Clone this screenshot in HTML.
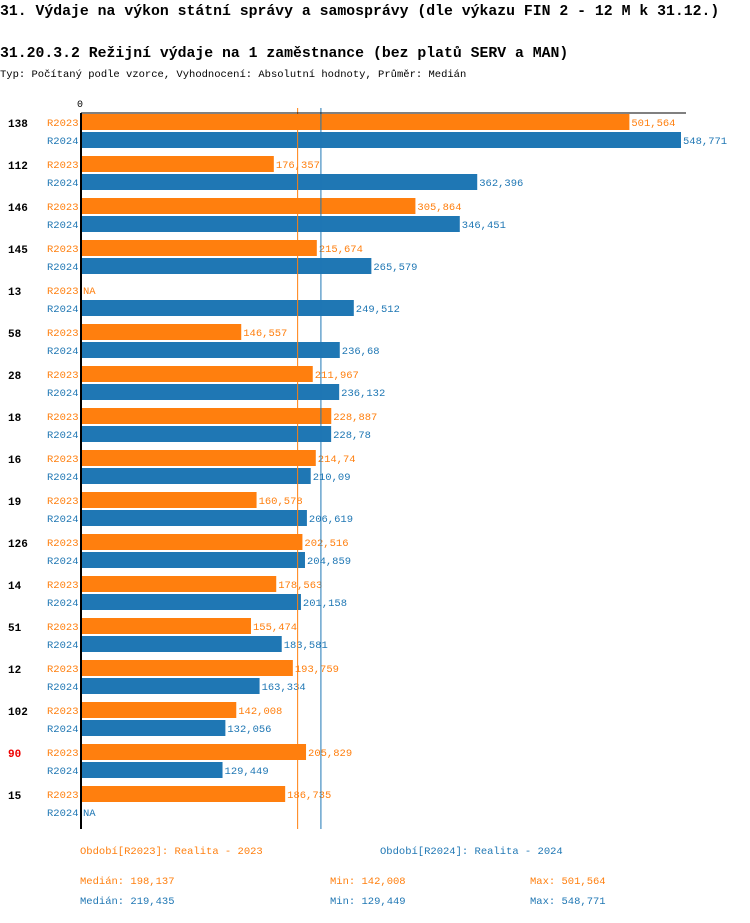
<!DOCTYPE html>
<html><head><meta charset="utf-8">
<style>
body{margin:0;background:#fff;width:750px;height:918px;overflow:hidden;font-family:"Liberation Mono",monospace;}
svg text{font-family:"Liberation Mono",monospace;}
</style></head>
<body>
<svg id="chart" width="750" height="918" xmlns="http://www.w3.org/2000/svg">
<text x="0" y="15" font-size="14.8" font-weight="bold" fill="#000">31. Výdaje na výkon státní správy a samosprávy (dle výkazu FIN 2 - 12 M k 31.12.)</text>
<text x="0" y="57" font-size="14.8" font-weight="bold" fill="#000">31.20.3.2 Režijní výdaje na 1 zaměstnance (bez platů SERV a MAN)</text>
<text x="0" y="77" font-size="10.5" fill="#000">Typ: Počítaný podle vzorce, Vyhodnocení: Absolutní hodnoty, Průměr: Medián</text>
<g id="plot"></g>
<text x="80" y="854" font-size="10.5" fill="#ff7f0e">Období[R2023]: Realita - 2023</text>
<text x="380" y="854" font-size="10.5" fill="#1f77b4">Období[R2024]: Realita - 2024</text>
<text x="80" y="884" font-size="10.5" fill="#ff7f0e">Medián: 198,137</text>
<text x="330" y="884" font-size="10.5" fill="#ff7f0e">Min: 142,008</text>
<text x="530" y="884" font-size="10.5" fill="#ff7f0e">Max: 501,564</text>
<text x="80" y="904" font-size="10.5" fill="#1f77b4">Medián: 219,435</text>
<text x="330" y="904" font-size="10.5" fill="#1f77b4">Min: 129,449</text>
<text x="530" y="904" font-size="10.5" fill="#1f77b4">Max: 548,771</text>
</svg>
<script>
const categories=["138","112","146","145","13","58","28","18","16","19","126","14","51","12","102","90","15"];
const highlighted=["90"];
const values2023=[501564,176357,305864,215674,null,146557,211967,228887,214740,160578,202516,178563,155474,193759,142008,205829,186735];
const values2024=[548771,362396,346451,265579,249512,236680,236132,228780,210090,206619,204859,201158,183581,163334,132056,129449,null];
const labels2023=["501,564","176,357","305,864","215,674","NA","146,557","211,967","228,887","214,74","160,578","202,516","178,563","155,474","193,759","142,008","205,829","186,735"];
const labels2024=["548,771","362,396","346,451","265,579","249,512","236,68","236,132","228,78","210,09","206,619","204,859","201,158","183,581","163,334","132,056","129,449","NA"];
const medians=[198137,219435];
const xMax=548771;
const X0=81, XW=600;
const x=v=>X0+v/xMax*XW;
const top0=113, groupH=42;
const C1="#ff7f0e", C2="#1f77b4";
const ns="http://www.w3.org/2000/svg";
const g=document.getElementById('plot');
function mk(t,a){const e=document.createElementNS(ns,t);for(const k in a)e.setAttribute(k,a[k]);g.appendChild(e);return e;}
const axisBottom=829;
categories.forEach((c,i)=>{
  const y=top0+i*groupH;
  let t=mk('text',{x:8,y:y+14,'font-size':11,'font-weight':'bold',fill:highlighted.includes(c)?'#e00':'#000'});
  t.textContent=c;
  
  
  [[values2023,labels2023,C1,'R2023',1],[values2024,labels2024,C2,'R2024',19]].forEach(([vals,labs,col,nm,off])=>{
    const by=y+off;
    let l=mk('text',{x:47,y:by+12,'font-size':10.5,fill:col});l.textContent=nm;
    
    
    const v=vals[i];
    let ex=X0+2;
    if(v!=null){
      const r=mk('rect',{x:X0,y:by,width:x(v)-X0,height:16,fill:col});
      
      
      ex=x(v)+2;
    }
    let vt=mk('text',{x:ex,y:by+12,'font-size':10.5,fill:col});vt.textContent=labs[i];
    
    
  });
});
[[medians[0],C1],[medians[1],C2]].forEach(([m,col],k)=>{
  const l=mk('line',{x1:x(m),x2:x(m),y1:108,y2:axisBottom,stroke:col,'stroke-width':1});
  
  
});
const ax=mk('line',{x1:X0,x2:X0,y1:top0,y2:axisBottom,stroke:'#000','stroke-width':2});


const tx=mk('line',{x1:X0,x2:686,y1:top0,y2:top0,stroke:'#000','stroke-width':1});


const z=mk('text',{x:77,y:107,'font-size':10,fill:'#000'});z.textContent='0';


</script>
</body></html>
